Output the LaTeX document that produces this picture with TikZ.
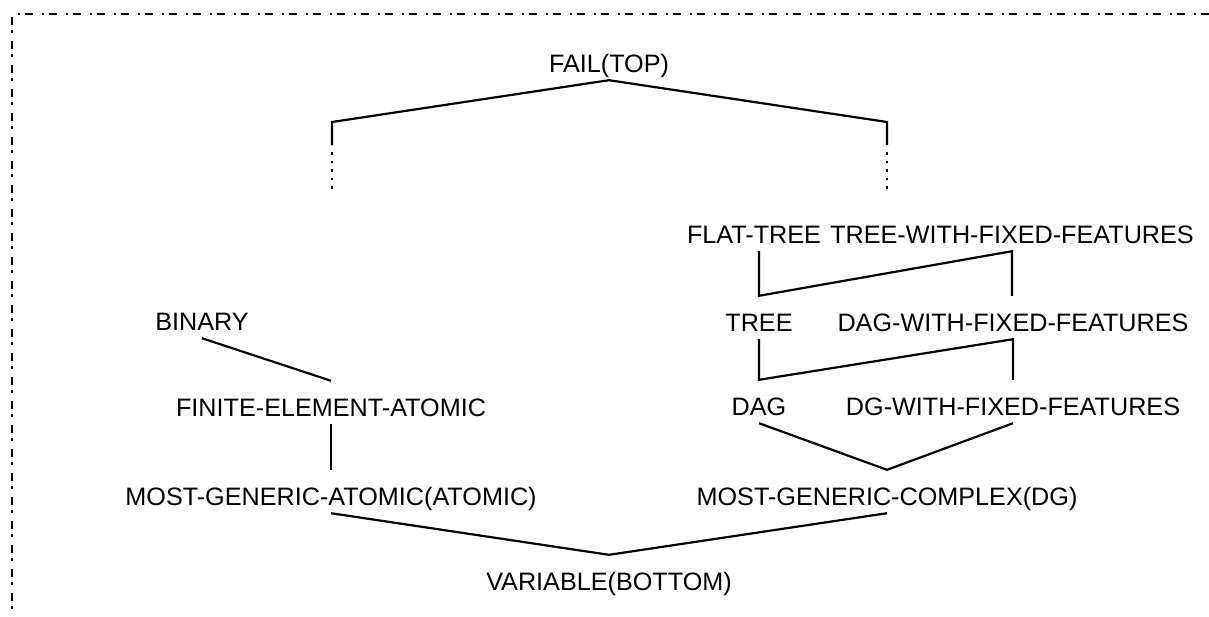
\documentclass[tikz,border=0pt]{standalone}
\usepackage{fontspec}
\setmainfont{Liberation Sans}
\usetikzlibrary{calc}
\begin{document}
\begin{tikzpicture}[x=1pt,y=-1pt,
  lbl/.style={anchor=base, inner xsep=0pt, inner ysep=3pt,
    text height=32pt, text depth=5pt, font=\fontsize{25.2}{30}\selectfont},
  edge/.style={line width=2.2pt, line join=miter},
  cont/.style={line width=2.6pt, dash pattern=on 2.6pt off 5.9pt},
  frame/.style={line width=2.4pt, dash pattern=on 8pt off 5pt on 2.5pt off 8.5pt}]
\useasboundingbox (0,0) rectangle (1209,616);

% dash-dot frame (top and left sides)
\draw[frame] (1209,14) -- (12,14) -- (12,616);

% lattice elements
\node[lbl] (top)   at (609,72)  {FAIL(TOP)};
\node[lbl] (flat)  at (754,243) {FLAT-TREE};
\node[lbl] (twff)  at (1012,243) {TREE-WITH-FIXED-FEATURES};
\node[lbl] (bin)   at (202,330) {BINARY};
\node[lbl] (tree)  at (759,331) {TREE};
\node[lbl] (dawff) at (1013,331) {DAG-WITH-FIXED-FEATURES};
\node[lbl] (fin)   at (331,416) {FINITE-ELEMENT-ATOMIC};
\node[lbl] (dag)   at (759,415) {DAG};
\node[lbl] (dgwff) at (1013,415) {DG-WITH-FIXED-FEATURES};
\node[lbl] (mga)   at (331,505) {MOST-GENERIC-ATOMIC(ATOMIC)};
\node[lbl] (mgc)   at (887,505) {MOST-GENERIC-COMPLEX(DG)};
\node[lbl] (bot)   at (609,590) {VARIABLE(BOTTOM)};

% branches below the top, continued by dots
\coordinate (lk) at (332,122); \coordinate (lb) at (332,145);
\coordinate (ld) at (332,152); \coordinate (le) at (332,190);
\coordinate (rk) at (887,122); \coordinate (rb) at (887,145);
\coordinate (rd) at (887,152); \coordinate (re) at (887,190);
\draw[edge] (lb) -- (lk) -- (top.south) -- (rk) -- (rb);
\draw[cont] (ld) -- (le);
\draw[cont] (rd) -- (re);

% atomic side
\draw[edge] (bin.south) -- (fin.north);
\draw[edge] (fin.south) -- (fin.south |- mga.north);
\draw[edge] (mga.south) -- (bot.north) -- (mgc.south);

% complex side
\draw[edge] (flat.south -| tree.north) -- (tree.north) -- (twff.south) -- (twff.south |- dawff.north);
\draw[edge] (tree.south) -- (dag.north) -- (dawff.south) -- (dawff.south |- dgwff.north);
\draw[edge] (dag.south) -- (mgc.north) -- (dgwff.south);
\end{tikzpicture}
\end{document}
